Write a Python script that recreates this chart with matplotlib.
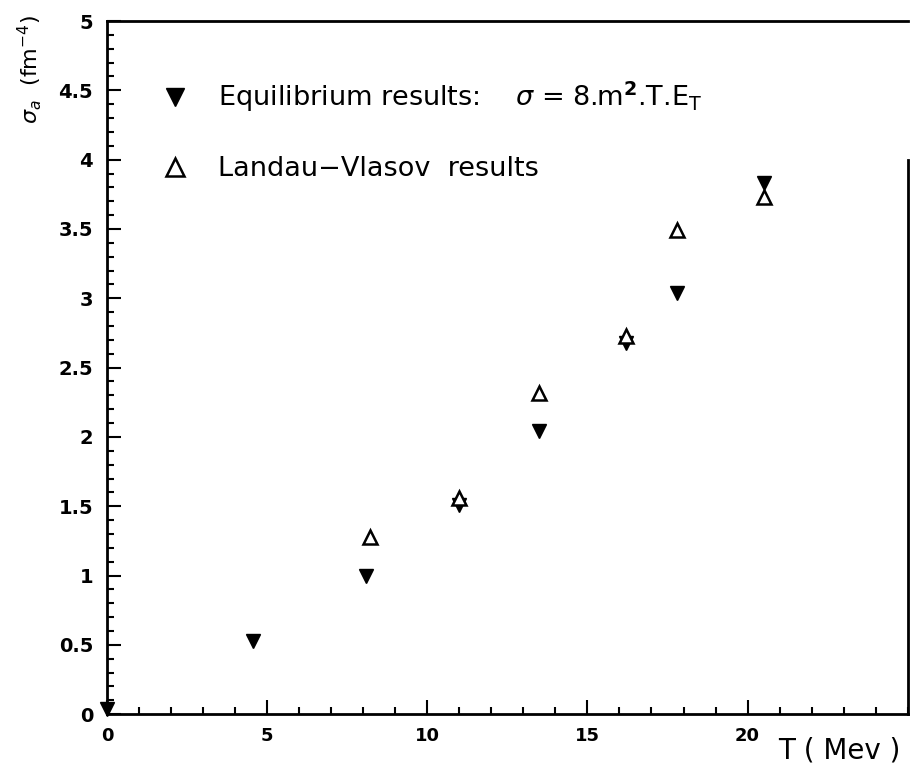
import matplotlib
matplotlib.use("Agg")
import matplotlib.pyplot as plt
from matplotlib.ticker import MultipleLocator

# temperature values (MeV)
t_equil = [0.0, 4.55, 8.1, 11.0, 16.2, 13.5, 17.8, 20.5]
sigma_equil = [0.04, 0.53, 1.00, 1.51, 2.68, 2.04, 3.04, 3.83]

t_vlasov = [8.2, 11.0, 13.5, 16.2, 17.8, 20.5]
sigma_vlasov = [1.28, 1.56, 2.32, 2.73, 3.49, 3.73]

label_equil = r"Equilibrium results:    $\sigma$ = 8.m$^\mathbf{2}$.T.E$_\mathrm{T}$"
label_vlasov = "Landau\u2212Vlasov  results"

x_ticks = [0, 5, 10, 15, 20]
y_ticks = [0, 0.5, 1, 1.5, 2, 2.5, 3, 3.5, 4, 4.5, 5]
y_tick_labels = ["0", "0.5", "1", "1.5", "2", "2.5", "3", "3.5", "4", "4.5", "5"]

plt.rcParams["font.family"] = ["DejaVu Sans"]
plt.rcParams["mathtext.fontset"] = "dejavusans"

fig = plt.figure(figsize=(9.15, 7.78), dpi=100)
ax = fig.add_axes([0.117, 0.082, 0.875, 0.891])

ax.plot(t_equil, sigma_equil, linestyle="none", marker="v",
        markersize=10, color="black", label=label_equil, clip_on=False,
        zorder=3)
ax.plot(t_vlasov, sigma_vlasov, linestyle="none", marker="^",
        markersize=10, markerfacecolor="white", markeredgecolor="black",
        markeredgewidth=1.8, label=label_vlasov, clip_on=False, zorder=4)

ax.set_xlim(0, 25)
ax.set_ylim(0, 5)

ax.set_xticks(x_ticks)
ax.set_yticks(y_ticks)
ax.set_yticklabels(y_tick_labels)
ax.xaxis.set_minor_locator(MultipleLocator(1))
ax.yaxis.set_minor_locator(MultipleLocator(0.1))

ax.tick_params(axis="both", which="both", direction="in",
               top=False, right=False, width=1.5, color="black")
ax.tick_params(axis="both", which="major", length=10)
ax.tick_params(axis="both", which="minor", length=5)
ax.tick_params(axis="x", which="major", labelsize=13, pad=9)
ax.tick_params(axis="y", which="major", labelsize=14, pad=10)
for lab in ax.get_xticklabels() + ax.get_yticklabels():
    lab.set_fontweight("bold")

for side in ["left", "bottom", "top", "right"]:
    ax.spines[side].set_linewidth(2)
ax.spines["right"].set_bounds(0, 4.0)

ax.text(-0.097, 0.93, r"$\sigma_a$  (fm$^{-4}$)", transform=ax.transAxes,
        rotation=90, ha="center", va="center", fontsize=16)
ax.text(0.915, -0.052, "T ( Mev )", transform=ax.transAxes,
        ha="center", va="center", fontsize=20)

ax.legend(loc="upper left", bbox_to_anchor=(0.051, 0.931), frameon=False,
          fontsize=19.5, markerscale=1.3, handlelength=1.2,
          handletextpad=1.0, labelspacing=1.55, borderaxespad=0)

fig.savefig("out.png", dpi=100)
plt.close(fig)
